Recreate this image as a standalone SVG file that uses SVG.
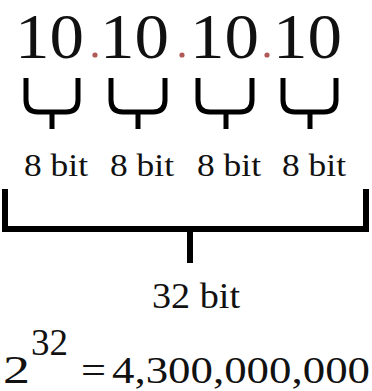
<svg xmlns="http://www.w3.org/2000/svg" width="372" height="391" viewBox="0 0 372 391">
<style>
.t{font-family:"Liberation Serif","Times New Roman",serif;fill:#111}
.b{fill:none;stroke:#000;stroke-width:5;stroke-linecap:butt}
.B{fill:none;stroke:#000;stroke-width:6;stroke-linejoin:miter}
.dot{fill:#b05a58}
</style>
<rect width="372" height="391" fill="#fff"/>
<g id="octets">
<text class="t" x="15" y="58" font-size="64" textLength="69" lengthAdjust="spacingAndGlyphs">10</text>
<text class="t" x="100" y="58" font-size="64" textLength="69" lengthAdjust="spacingAndGlyphs">10</text>
<text class="t" x="190" y="58" font-size="64" textLength="69" lengthAdjust="spacingAndGlyphs">10</text>
<text class="t" x="273" y="58" font-size="64" textLength="69" lengthAdjust="spacingAndGlyphs">10</text>
<circle class="dot" cx="95" cy="55" r="2.6"/>
<circle class="dot" cx="182" cy="55" r="2.6"/>
<circle class="dot" cx="267" cy="55" r="2.6"/>
</g>
<g id="connectors">
<path class="b" d="M26,78 V100 Q26,112 38,112 H66 Q78,112 78,100 V78 M52,112 V129"/>
<path class="b" d="M111,78 V100 Q111,112 123,112 H153 Q165,112 165,100 V78 M138,112 V129"/>
<path class="b" d="M198,78 V100 Q198,112 210,112 H240 Q252,112 252,100 V78 M226,112 V129"/>
<path class="b" d="M283,78 V100 Q283,112 295,112 H324 Q336,112 336,100 V78 M310,112 V129"/>
<path class="B" d="M5,189 V229 H366 V189 M190,229 V263"/>
</g>
<g id="labels8">
<text class="t" x="24" y="176" font-size="32" textLength="64" lengthAdjust="spacingAndGlyphs">8 bit</text>
<text class="t" x="110" y="176" font-size="32" textLength="64" lengthAdjust="spacingAndGlyphs">8 bit</text>
<text class="t" x="197" y="176" font-size="32" textLength="64" lengthAdjust="spacingAndGlyphs">8 bit</text>
<text class="t" x="282" y="176" font-size="32" textLength="64" lengthAdjust="spacingAndGlyphs">8 bit</text>
</g>
<g id="label32">
<text class="t" x="152" y="308" font-size="35" textLength="88" lengthAdjust="spacingAndGlyphs">32 bit</text>
</g>
<g id="formula">
<text class="t" x="3" y="383" font-size="40" textLength="27" lengthAdjust="spacingAndGlyphs">2</text>
<text class="t" x="31" y="355" font-size="38" textLength="37" lengthAdjust="spacingAndGlyphs">32</text>
<text class="t" x="81" y="383" font-size="38" textLength="25" lengthAdjust="spacingAndGlyphs">=</text>
<text class="t" x="112" y="383" font-size="38" textLength="258" lengthAdjust="spacingAndGlyphs">4,300,000,000</text>
</g>
</svg>
